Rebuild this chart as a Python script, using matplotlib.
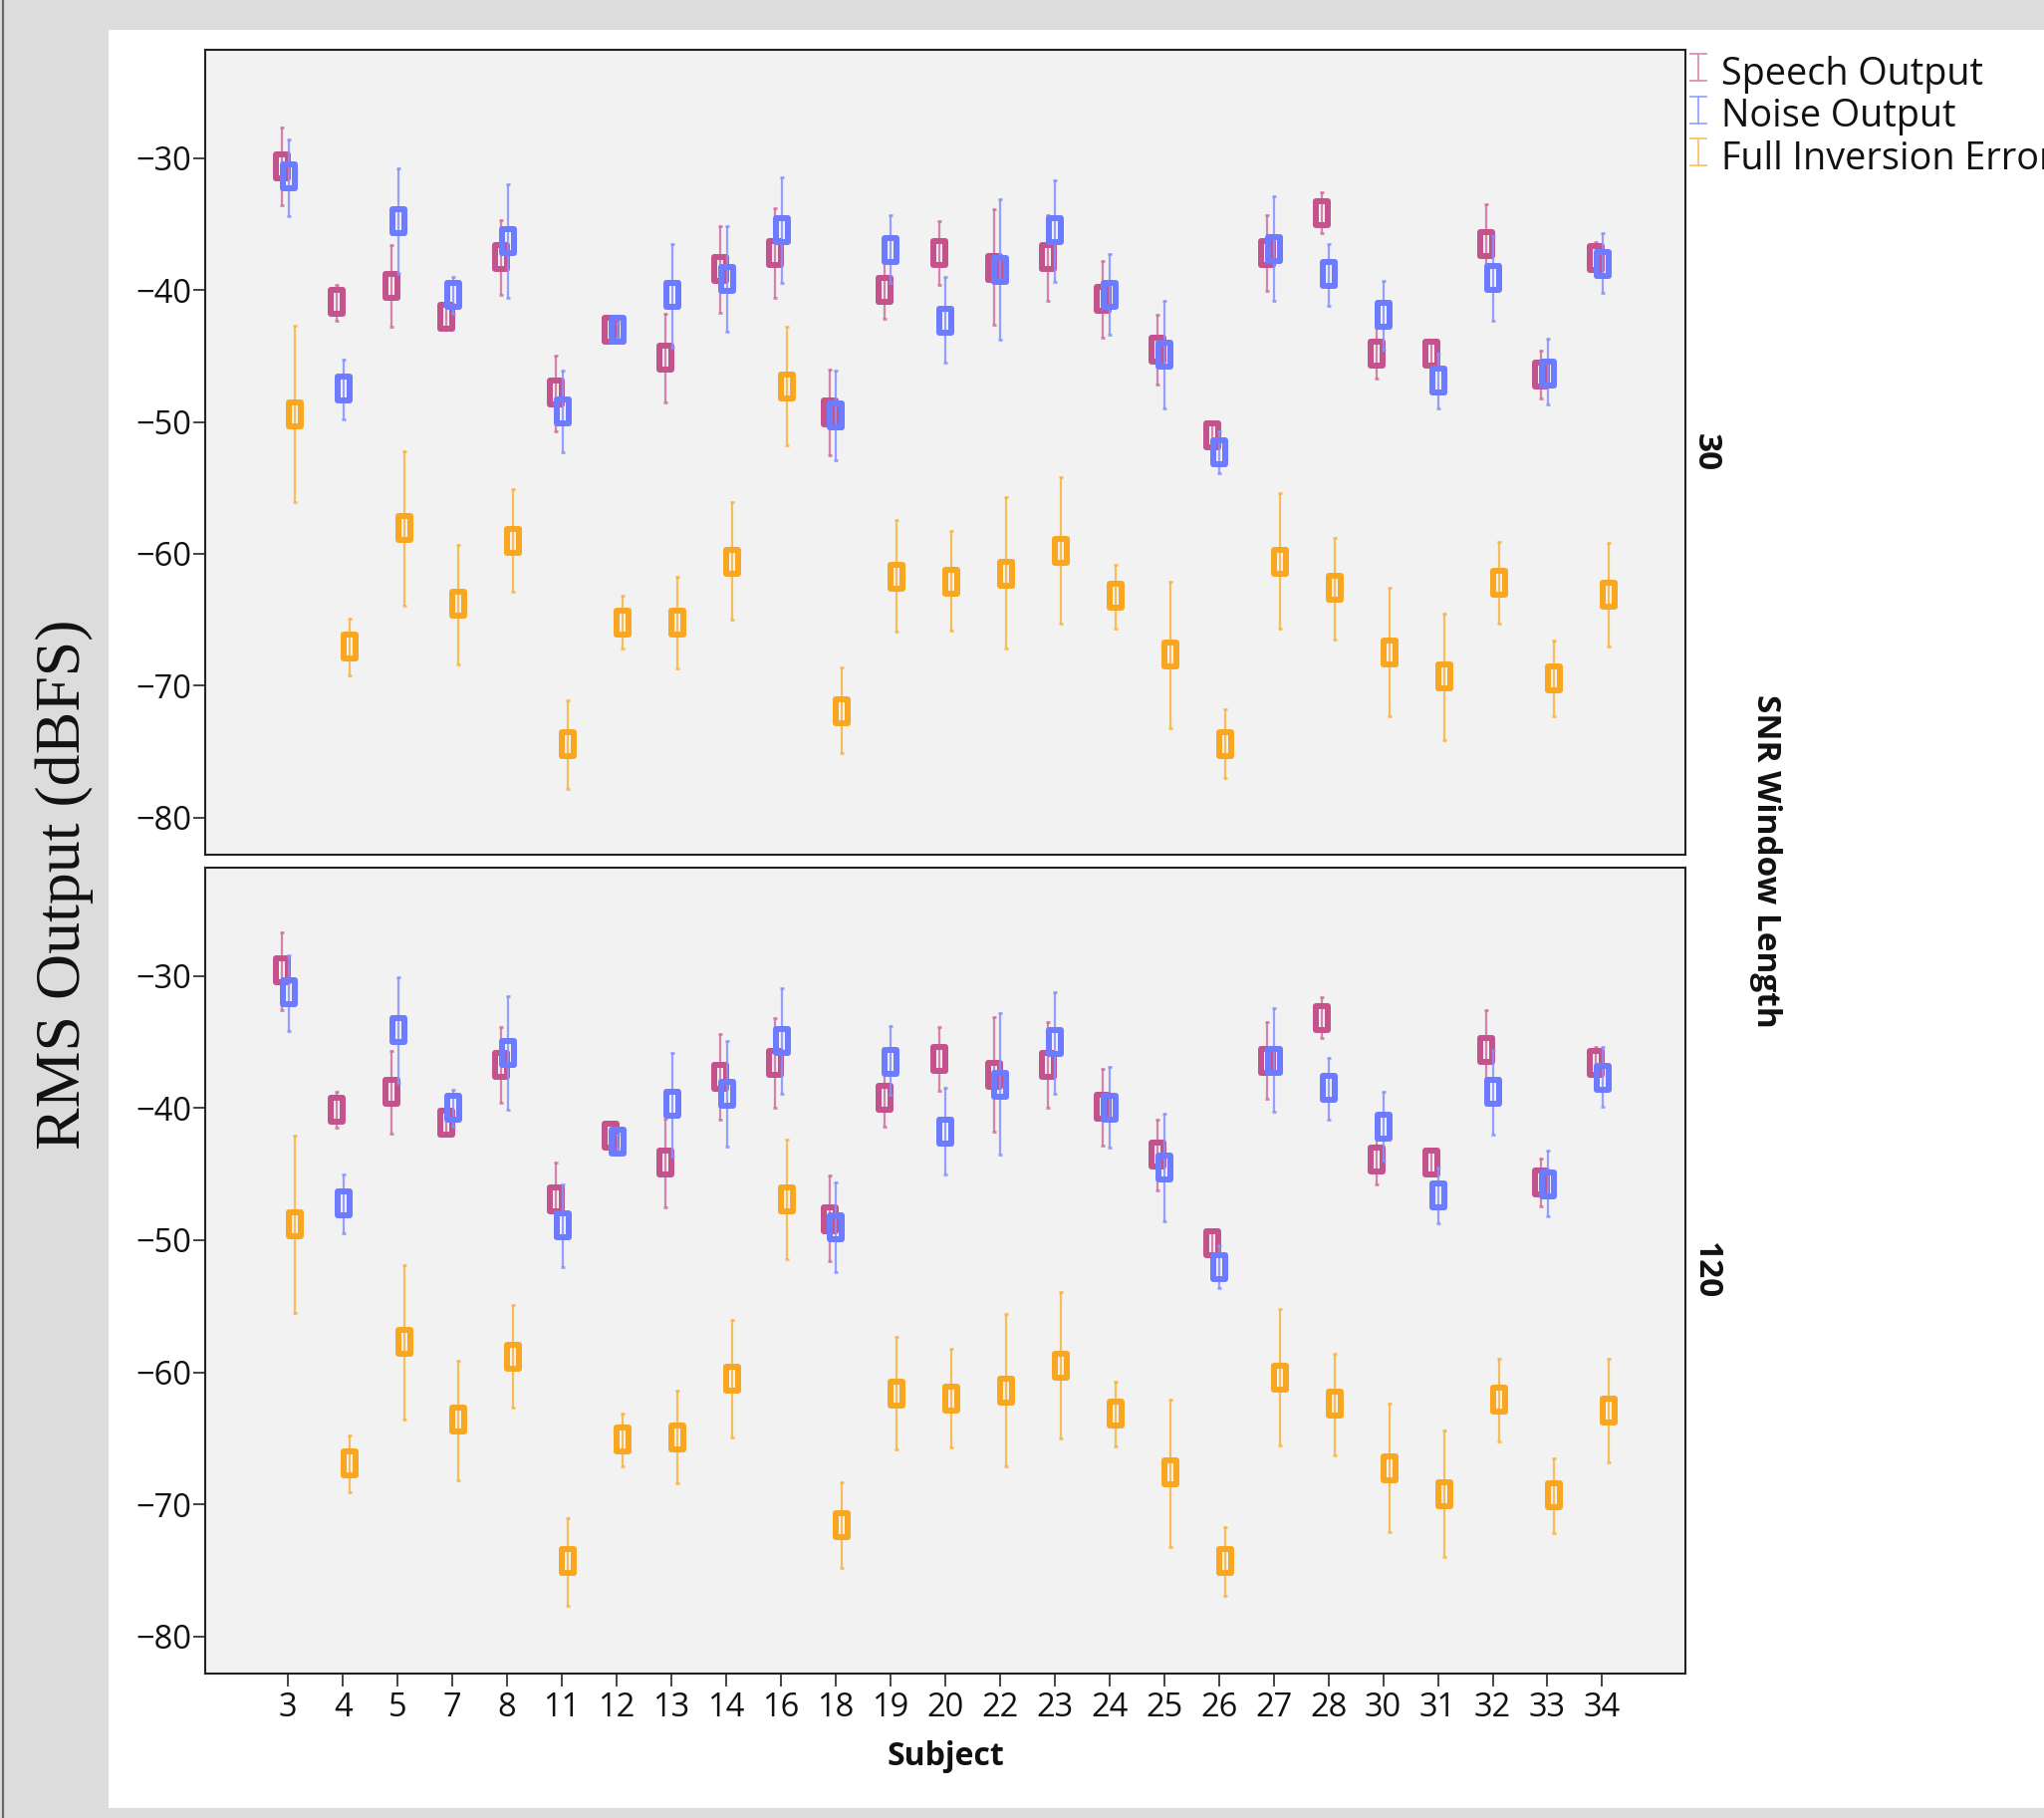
import matplotlib
matplotlib.use("Agg")
import matplotlib.pyplot as plt
import numpy as np
from matplotlib.path import Path
from matplotlib.lines import Line2D
from matplotlib.patches import Rectangle

plt.rcParams['font.family'] = ['Open Sans', 'DejaVu Sans']

# ---------------- data ----------------
subjects = ["3", "4", "5", "7", "8", "11", "12", "13", "14", "16", "18", "19", "20",
            "22", "23", "24", "25", "26", "27", "28", "30", "31", "32", "33", "34"]
series_names = ["Speech Output", "Noise Output", "Full Inversion Error"]
panel_labels = ["30", "120"]

# Window length 30 (top panel): mean, lower end, upper end
speech_30 = [-30.6, -40.9, -39.7, -42.0, -37.5, -47.8, -43.0, -45.1, -38.4, -37.2, -49.3, -40.0, -37.2,
             -38.3, -37.5, -40.7, -44.5, -51.0, -37.2, -34.2, -44.8, -44.8, -36.5, -46.4, -37.6]
speech_30_lo = [-33.6, -42.3, -42.8, -42.8, -40.4, -50.7, -43.5, -48.5, -41.7, -40.6, -52.5, -42.2, -39.6,
                -42.6, -40.8, -43.6, -47.2, -52.0, -40.1, -35.7, -46.7, -45.6, -39.5, -48.2, -38.7]
speech_30_hi = [-27.7, -39.6, -36.6, -41.2, -34.7, -45.0, -42.6, -41.8, -35.2, -33.8, -46.0, -37.8, -34.8,
                -33.9, -34.3, -37.8, -41.9, -50.0, -34.3, -32.6, -42.9, -44.0, -33.5, -44.6, -36.4]
noise_30 = [-31.4, -47.5, -34.8, -40.4, -36.3, -49.2, -43.0, -40.4, -39.2, -35.5, -49.5, -37.0, -42.3,
            -38.5, -35.5, -40.4, -44.9, -52.3, -36.9, -38.8, -41.9, -46.9, -39.1, -46.3, -38.0]
noise_30_lo = [-34.4, -49.8, -38.8, -41.8, -40.6, -52.3, -43.6, -44.4, -43.2, -39.5, -52.9, -39.5, -45.5,
               -43.8, -39.4, -43.4, -49.0, -53.9, -40.8, -41.2, -44.5, -49.0, -42.3, -48.7, -40.2]
noise_30_hi = [-28.6, -45.3, -30.8, -39.0, -32.0, -46.1, -42.5, -36.5, -35.2, -31.5, -46.1, -34.3, -39.0,
               -33.1, -31.7, -37.3, -40.8, -50.7, -32.9, -36.5, -39.3, -44.8, -35.9, -43.7, -35.7]
fie_30 = [-49.4, -67.0, -58.0, -63.8, -59.0, -74.4, -65.2, -65.2, -60.6, -47.3, -71.9, -61.7, -62.1,
          -61.5, -59.8, -63.2, -67.6, -74.4, -60.6, -62.6, -67.5, -69.3, -62.2, -69.4, -63.1]
fie_30_lo = [-56.1, -69.2, -63.9, -68.4, -62.9, -77.8, -67.2, -68.7, -65.0, -51.8, -75.1, -65.9, -65.8,
             -67.2, -65.3, -65.7, -73.2, -77.0, -65.7, -66.5, -72.3, -74.1, -65.3, -72.3, -67.0]
fie_30_hi = [-42.7, -64.9, -52.2, -59.3, -55.1, -71.1, -63.2, -61.7, -56.1, -42.8, -68.6, -57.4, -58.3,
             -55.7, -54.2, -60.8, -62.1, -71.8, -55.4, -58.8, -62.6, -64.5, -59.1, -66.6, -59.2]

# Window length 120 (bottom panel)
speech_120 = [-29.6, -40.1, -38.8, -41.1, -36.7, -46.9, -42.1, -44.1, -37.6, -36.6, -48.4, -39.2, -36.3,
              -37.5, -36.7, -39.9, -43.5, -50.2, -36.4, -33.2, -43.9, -44.1, -35.6, -45.6, -36.6]
speech_120_lo = [-32.6, -41.5, -41.9, -41.9, -39.6, -49.8, -42.6, -47.5, -40.9, -40.0, -51.6, -41.4, -38.7,
                 -41.8, -40.0, -42.8, -46.2, -51.2, -39.3, -34.7, -45.8, -44.9, -38.6, -47.4, -37.7]
speech_120_hi = [-26.7, -38.8, -35.7, -40.3, -33.9, -44.1, -41.7, -40.8, -34.4, -33.2, -45.1, -37.0, -33.9,
                 -33.1, -33.5, -37.0, -40.9, -49.2, -33.5, -31.6, -42.0, -43.3, -32.6, -43.8, -35.4]
noise_120 = [-31.2, -47.2, -34.1, -40.0, -35.8, -48.9, -42.5, -39.7, -38.9, -34.9, -49.0, -36.5, -41.8,
             -38.2, -35.0, -40.0, -44.5, -52.0, -36.4, -38.5, -41.4, -46.6, -38.8, -45.8, -37.7]
noise_120_lo = [-34.2, -49.5, -38.1, -41.4, -40.1, -52.0, -43.1, -43.7, -42.9, -38.9, -52.4, -39.0, -45.0,
                -43.5, -38.9, -43.0, -48.6, -53.6, -40.3, -40.9, -44.0, -48.7, -42.0, -48.2, -39.9]
noise_120_hi = [-28.4, -45.0, -30.1, -38.6, -31.5, -45.8, -42.0, -35.8, -34.9, -30.9, -45.6, -33.8, -38.5,
                -32.8, -31.2, -36.9, -40.4, -50.4, -32.4, -36.2, -38.8, -44.5, -35.6, -43.2, -35.4]
fie_120 = [-48.8, -66.9, -57.7, -63.6, -58.8, -74.3, -65.1, -64.9, -60.5, -46.9, -71.6, -61.6, -62.0,
           -61.4, -59.5, -63.1, -67.6, -74.3, -60.4, -62.4, -67.3, -69.2, -62.1, -69.3, -62.9]
fie_120_lo = [-55.5, -69.1, -63.6, -68.2, -62.7, -77.7, -67.1, -68.4, -64.9, -51.4, -74.8, -65.8, -65.7,
              -67.1, -65.0, -65.6, -73.2, -76.9, -65.5, -66.3, -72.1, -74.0, -65.2, -72.2, -66.8]
fie_120_hi = [-42.1, -64.8, -51.9, -59.1, -54.9, -71.0, -63.1, -61.4, -56.0, -42.4, -68.3, -57.3, -58.2,
              -55.6, -53.9, -60.7, -62.1, -71.7, -55.2, -58.6, -62.4, -64.4, -59.0, -66.5, -59.0]

# ---------------- styling ----------------
W, H = 2052, 1825
DPI = 100
box_colors = ["#c4528c", "#6c7bff", "#f9a620"]
err_colors = ["#d0709f", "#8592ff", "#f9b340"]
legend_colors = ["#dc8fb4", "#9aa5ff", "#fbc36a"]
offsets = [-0.115, 0.01, 0.115]
yticks = [-30, -40, -50, -60, -70, -80]

def fx(px):
    return px / W

def fy(py):
    return 1 - py / H

fig = plt.figure(figsize=(W / DPI, H / DPI), dpi=DPI)
fig.patch.set_facecolor("#dcdcdc")
# white panel + left dark rule
fig.add_artist(Rectangle((fx(109), fy(1815)), 1 - fx(109), fy(30) - fy(1815),
                         transform=fig.transFigure, facecolor="white", edgecolor="none", zorder=0))
fig.add_artist(Line2D([fx(2.5), fx(2.5)], [0, 1], transform=fig.transFigure,
                      color="#6a6a6a", lw=1.6, zorder=1))

# hollow rectangle marker (box with transparent interior)
box_path = Path([(-0.261, -0.5), (0.261, -0.5), (0.261, 0.5), (-0.261, 0.5), (-0.261, -0.5)],
                [Path.MOVETO, Path.LINETO, Path.LINETO, Path.LINETO, Path.CLOSEPOLY])
px2pt = 72.0 / DPI

panels = [
    ((50, 858), [(speech_30, speech_30_lo, speech_30_hi),
                 (noise_30, noise_30_lo, noise_30_hi),
                 (fie_30, fie_30_lo, fie_30_hi)]),
    ((871, 1680), [(speech_120, speech_120_lo, speech_120_hi),
                   (noise_120, noise_120_lo, noise_120_hi),
                   (fie_120, fie_120_lo, fie_120_hi)]),
]

x = np.arange(len(subjects))
axes = []
for pi, ((top, bot), series) in enumerate(panels):
    ax = fig.add_axes([fx(206), fy(bot), fx(1692) - fx(206), fy(top) - fy(bot)])
    axes.append(ax)
    ax.set_facecolor("#f2f2f2")
    for si, (m, lo, hi) in enumerate(series):
        m = np.array(m); lo = np.array(lo); hi = np.array(hi)
        xs = x + offsets[si]
        ax.errorbar(xs, m, yerr=[m - lo, hi - m], fmt="none", ecolor=err_colors[si],
                    elinewidth=1.6, capsize=1.3, capthick=2.0, alpha=0.85, zorder=2 + si * 2)
        ax.plot(xs, m, linestyle="none", marker=box_path, markersize=23.5 * px2pt,
                markerfacecolor="none", markeredgecolor=box_colors[si],
                markeredgewidth=6 * px2pt, zorder=3 + si * 2)
    ax.set_xlim(-1.515, len(subjects) - 1 + 1.52)
    ax.set_ylim(-82.8, -21.8)
    ax.set_yticks(yticks)
    ax.set_yticklabels([f"\u2212{abs(v)}" for v in yticks])
    ax.set_xticks(x)
    if pi == 1:
        ax.set_xticklabels(subjects)
    else:
        ax.set_xticklabels([])
    ax.tick_params(axis="both", direction="out", length=9, width=1.4, color="#444444",
                   labelsize=23.5, labelcolor="#111111")
    ax.tick_params(axis="y", pad=1)
    ax.tick_params(axis="x", pad=4)
    if pi == 0:
        ax.tick_params(axis="x", length=0)
    for sp in ax.spines.values():
        sp.set_color("#222222")
        sp.set_linewidth(1.5)
    ax.grid(False)

# facet labels
fig.text(fx(1712), fy(454), panel_labels[0], rotation=-90, ha="center", va="center",
         fontsize=24, fontweight="bold", color="#111111")
fig.text(fx(1712), fy(1276), panel_labels[1], rotation=-90, ha="center", va="center",
         fontsize=24, fontweight="bold", color="#111111")
fig.text(fx(1773), fy(864), "SNR Window Length", rotation=-90, ha="center", va="center",
         fontsize=24, fontweight="bold", color="#111111")
fig.text(fx(949), fy(1763), "Subject", ha="center", va="center",
         fontsize=23, fontweight="bold", color="#111111")
fig.text(fx(65), fy(888), "RMS Output (dBFS)", rotation=90, ha="center", va="center",
         fontsize=46, family=["Liberation Serif", "DejaVu Serif"], color="#111111")

# legend (manual, clipped at figure edge as in the original)
leg_base = [85, 127.5, 170]
for i, name in enumerate(series_names):
    yb = leg_base[i]
    y0, y1 = yb - 31, yb - 4
    fig.add_artist(Line2D([fx(1705), fx(1705)], [fy(y0), fy(y1)], transform=fig.transFigure,
                          color=legend_colors[i], lw=1.3))
    for yy in (y0, y1):
        fig.add_artist(Line2D([fx(1697), fx(1713)], [fy(yy), fy(yy)], transform=fig.transFigure,
                              color=legend_colors[i], lw=1.3))
    fig.text(fx(1728), fy(yb), name, ha="left", va="baseline", fontsize=27.2, color="#111111")

fig.savefig("out.png", dpi=DPI, facecolor=fig.get_facecolor())
